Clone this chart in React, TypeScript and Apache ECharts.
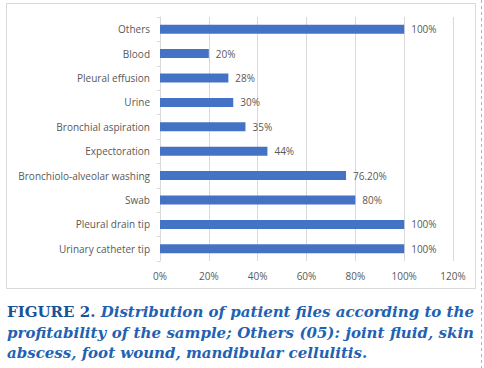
import React, { useEffect, useRef } from "react";
import * as echarts from "echarts";

const categories = [
  "Urinary catheter tip",
  "Pleural drain tip",
  "Swab",
  "Bronchiolo-alveolar washing",
  "Expectoration",
  "Bronchial aspiration",
  "Urine",
  "Pleural effusion",
  "Blood",
  "Others",
];
const values = [100, 100, 80, 76.2, 44, 35, 30, 28, 20, 100];
const valueLabels = ["100%", "100%", "80%", "76.20%", "44%", "35%", "30%", "28%", "20%", "100%"];
const captionLead = "FIGURE 2.";
const captionLines = [
  "Distribution of patient files according to the",
  "profitability of the sample; Others (05): joint fluid, skin",
  "abscess, foot wound, mandibular cellulitis.",
];

export default function App() {
  const ref = useRef<HTMLDivElement>(null);
  useEffect(() => {
    const chart = echarts.init(ref.current!, null, { renderer: "svg" });
    const capColor = "#1f62b4";
    const leadColor = "#1a5299";
    const capFamily = "'DejaVu Serif', serif";
    const fontSize = 15;
    const italicFont = `italic bold ${fontSize}px ${capFamily}`;
    const boldFont = `bold ${fontSize}px ${capFamily}`;
    const ctx = document.createElement("canvas").getContext("2d")!;
    const measure = (t: string, f: string) => {
      ctx.font = f;
      return ctx.measureText(t).width;
    };
    const left = 7;
    const right = 474;
    const tops = [304, 325, 345];
    const captionGraphics: any[] = [];
    captionLines.forEach((line, li) => {
      const tokens: { t: string; f: string; c: string }[] = [];
      if (li === 0) captionLead.split(" ").forEach((w) => tokens.push({ t: w, f: boldFont, c: leadColor }));
      line.split(" ").forEach((w) => tokens.push({ t: w, f: italicFont, c: capColor }));
      const widths = tokens.map((k) => measure(k.t, k.f));
      const total = widths.reduce((a, b) => a + b, 0);
      const justify = li < captionLines.length - 1;
      const gap = justify ? (right - left - total) / (tokens.length - 1) : measure(" ", italicFont);
      let x = left;
      tokens.forEach((k, i) => {
        captionGraphics.push({
          type: "text",
          x,
          y: tops[li],
          silent: true,
          style: { text: k.t, fill: k.c, font: k.f, verticalAlign: "top", align: "left" },
        });
        x += widths[i] + gap;
      });
    });
    chart.setOption({
      animation: false,
      grid: { left: 160, right: 31, top: 17, bottom: 107 },
      xAxis: {
        type: "value",
        min: 0,
        max: 120,
        interval: 20,
        axisLine: { show: false },
        axisTick: { show: false },
        splitLine: { show: true, lineStyle: { color: "#d9d9d9", width: 1 } },
        axisLabel: {
          formatter: (v: number) => v + "%",
          color: "#595959",
          fontSize: 10,
          fontFamily: "'Open Sans', sans-serif",
          margin: 10,
        },
      },
      yAxis: {
        type: "category",
        data: categories,
        axisLine: { show: true, lineStyle: { color: "#d9d9d9" } },
        axisTick: { show: true, length: 3, lineStyle: { color: "#d9d9d9" } },
        axisLabel: {
          color: "#595959",
          fontSize: 10,
          fontFamily: "'Open Sans', sans-serif",
          margin: 10,
        },
      },
      series: [
        {
          type: "bar",
          data: values,
          barWidth: 9,
          itemStyle: { color: "#4472c4" },
          label: {
            show: true,
            position: "right",
            distance: 7,
            color: "#595959",
            fontSize: 10,
            fontFamily: "'Open Sans', sans-serif",
            formatter: (p: any) => valueLabels[p.dataIndex],
          },
        },
      ],
      graphic: [
        {
          type: "rect",
          shape: { x: 6.5, y: 3.5, width: 469, height: 285 },
          style: { fill: "none", stroke: "#d9d9d9", lineWidth: 1 },
          silent: true,
        },
        {
          type: "line",
          shape: { x1: 481.5, y1: 0, x2: 481.5, y2: 368 },
          style: { stroke: "#9bb7d8", lineWidth: 1, lineDash: [3, 3] },
          silent: true,
        },
        ...captionGraphics,
      ],
    });
    return () => chart.dispose();
  }, []);
  return <div ref={ref} style={{ width: 484, height: 368, position: "absolute", left: 0, top: 0 }} />;
}
